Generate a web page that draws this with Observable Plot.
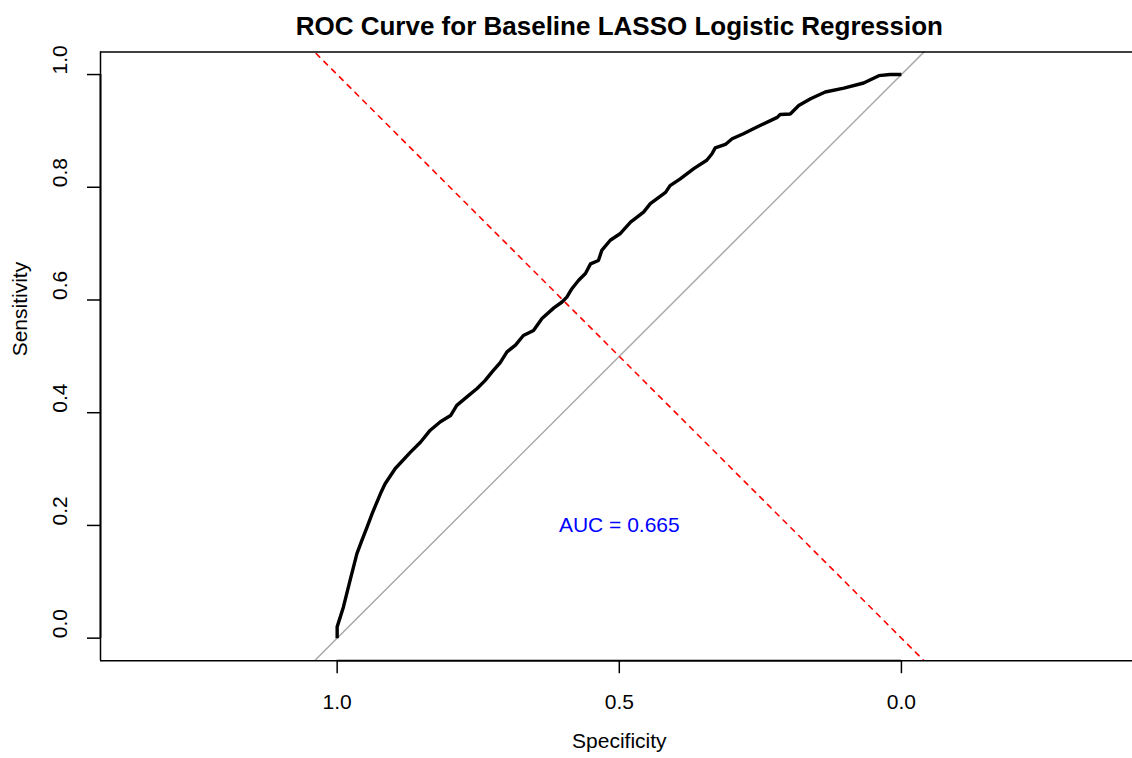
<!DOCTYPE html>
<html>
<head>
<meta charset="utf-8">
<script src="https://cdn.jsdelivr.net/npm/d3@7"></script>
<script src="https://cdn.jsdelivr.net/npm/@observablehq/plot@0.6"></script>
<style>
  html, body { margin: 0; padding: 0; background: #fff; }
  #chart svg { display: block; }
</style>
</head>
<body>
<div id="chart"></div>
<script>
// ROC curve points (specificity, sensitivity)
const specificity = [1.000, 1.000, 0.989, 0.977, 0.965, 0.956, 0.947, 0.938, 0.923, 0.915,
  0.897, 0.870, 0.852, 0.835, 0.817, 0.799, 0.788, 0.770, 0.752, 0.738,
  0.725, 0.711, 0.699, 0.684, 0.670, 0.652, 0.637, 0.616, 0.602, 0.593,
  0.584, 0.572, 0.560, 0.551, 0.537, 0.531, 0.516, 0.498, 0.480, 0.457,
  0.445, 0.418, 0.410, 0.392, 0.368, 0.345, 0.336, 0.330, 0.312, 0.300,
  0.280, 0.256, 0.220, 0.215, 0.197, 0.182, 0.161, 0.135, 0.102, 0.067,
  0.040, 0.020, 0.000];
const sensitivity = [0.000, 0.020, 0.055, 0.103, 0.150, 0.174, 0.197, 0.221, 0.257, 0.274,
  0.301, 0.330, 0.348, 0.369, 0.384, 0.395, 0.413, 0.428, 0.443, 0.457,
  0.473, 0.489, 0.508, 0.520, 0.537, 0.546, 0.567, 0.586, 0.596, 0.605,
  0.620, 0.635, 0.647, 0.664, 0.670, 0.688, 0.706, 0.718, 0.738, 0.756,
  0.771, 0.791, 0.803, 0.815, 0.833, 0.848, 0.859, 0.870, 0.876, 0.886,
  0.895, 0.907, 0.924, 0.929, 0.930, 0.945, 0.957, 0.969, 0.976, 0.985,
  0.998, 1.000, 1.000];

const xTicks = [1.0, 0.5, 0.0];
const yTicks = [0.0, 0.2, 0.4, 0.6, 0.8, 1.0];
const refSpec = [-0.5, 1.5];          // span for the reference lines
const aucValue = 0.665;
const aucPos = {spec: 0.5, sens: 0.2};
const titleText = "ROC Curve for Baseline LASSO Logistic Regression";
const xLabel = "Specificity";
const yLabel = "Sensitivity";

const xDomain = [1.4194, -0.4095];
const yDomain = [-0.04, 1.04];

const roc = specificity.map((s, i) => ({spec: s, sens: sensitivity[i]}));
const chance = refSpec.map(s => ({spec: s, sens: 1 - s}));
const equal = refSpec.map(s => ({spec: s, sens: s}));

const font = "'Liberation Sans', Arial, Helvetica, sans-serif";
const fs = 21;

const chart = Plot.plot({
  width: 1132,
  height: 758,
  marginLeft: 100,
  marginRight: 0,
  marginTop: 51.5,
  marginBottom: 97.8,
  style: {fontFamily: font, background: "#fff"},
  x: {type: "linear", domain: xDomain},
  y: {type: "linear", domain: yDomain},
  marks: [
    // reference lines
    Plot.line(chance, {x: "spec", y: "sens", stroke: "#aaaaaa", strokeWidth: 1.5, clip: true}),
    Plot.line(equal, {x: "spec", y: "sens", stroke: "#ff0000", strokeWidth: 1.6, strokeDasharray: "5,6", clip: true}),
    // ROC curve
    Plot.line(roc, {x: "spec", y: "sens", stroke: "#000", strokeWidth: 3.4, strokeLinejoin: "round", strokeLinecap: "butt"}),
    // box (left, top, bottom)
    Plot.ruleX([xDomain[0]], {stroke: "#000", strokeWidth: 1.5}),
    Plot.ruleY([yDomain[1]], {stroke: "#000", strokeWidth: 1.5}),
    Plot.ruleY([yDomain[0]], {stroke: "#000", strokeWidth: 1.5}),
    // axis lines between end ticks
    Plot.ruleY([yDomain[0]], {x1: d3.max(xTicks), x2: d3.min(xTicks), stroke: "#000", strokeWidth: 1.8}),
    Plot.ruleX([xDomain[0]], {y1: d3.min(yTicks), y2: d3.max(yTicks), stroke: "#000", strokeWidth: 1.8}),
    // ticks
    Plot.axisX({ticks: xTicks, tickSize: 13, tickFormat: () => "", stroke: "#000", strokeWidth: 1.5, label: null}),
    Plot.axisY({ticks: yTicks, tickSize: 13, tickFormat: () => "", stroke: "#000", strokeWidth: 1.5, label: null}),
    // tick labels
    Plot.text(xTicks, {x: d => d, frameAnchor: "bottom", dy: 42, text: d => d.toFixed(1), fontSize: fs, lineAnchor: "middle", fill: "#000"}),
    Plot.text(yTicks, {y: d => d, frameAnchor: "left", dx: -40, rotate: -90, text: d => d.toFixed(1), fontSize: fs, lineAnchor: "middle", fill: "#000"}),
    // axis titles
    Plot.text([xLabel], {x: () => aucPos.spec, frameAnchor: "bottom", dy: 81, text: d => d, fontSize: fs, lineAnchor: "middle", fill: "#000"}),
    Plot.text([yLabel], {frameAnchor: "left", dx: -80, rotate: -90, text: d => d, fontSize: fs, lineAnchor: "middle", fill: "#000"}),
    // title
    Plot.text([titleText], {x: () => aucPos.spec, frameAnchor: "top", dy: -25.5, text: d => d, fontSize: 26, fontWeight: "bold", lineAnchor: "middle", fill: "#000"}),
    // AUC label
    Plot.text([aucPos], {x: "spec", y: "sens", text: () => "AUC = " + aucValue.toFixed(3), fill: "#0000ff", fontSize: fs, lineAnchor: "middle"})
  ]
});
document.getElementById("chart").appendChild(chart);
</script>
</body>
</html>
